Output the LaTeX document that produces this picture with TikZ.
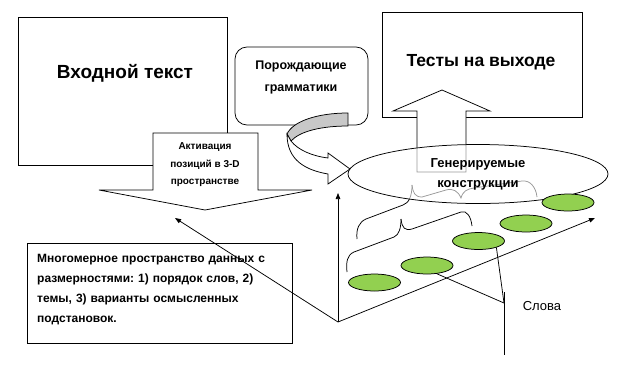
\documentclass[tikz,border=0pt]{standalone}
\usepackage{fontspec}
\setmainfont{Liberation Sans}
\usetikzlibrary{arrows.meta,positioning,shapes.geometric}
\definecolor{leafgreen}{HTML}{92D050}
\definecolor{ribbongray}{HTML}{C8C8C8}
\frenchspacing

\begin{document}
\begin{tikzpicture}[x=1pt,y=-1pt,
  box/.style={draw,line width=0.75pt,fill=white,inner sep=0pt},
  shapeline/.style={draw,line width=0.75pt,fill=white},
  braceline/.style={line width=0.75pt},
  axis/.style={line width=0.75pt,-{Triangle[length=6pt,width=4.5pt]}},
  word/.style={draw,ellipse,line width=0.75pt,fill=leafgreen,minimum width=52pt,minimum height=17pt,inner sep=0pt}]
  \useasboundingbox (0,0) rectangle (629,368);

  \node[box,minimum width=209pt,minimum height=148pt] (intext) at (122.5,91) {};
  \node[font=\bfseries\fontsize{19}{22}\selectfont] (intextlabel) at (125,73) {Входной текст};
  \draw[shapeline] (153,133) -- (258,133) -- (258,190) -- (312,190) -- (205,210) -- (99,190) -- (153,190) -- cycle;
  \node[font=\bfseries\fontsize{10}{17.5}\selectfont,align=center] (activ) at (205,165) {Активация\\позиций в 3-D\\пространстве};

  \node[box,rounded corners=12pt,minimum width=133pt,minimum height=78pt] (gram) at (301.5,86) {};
  \node[font=\bfseries\fontsize{12.5}{22}\selectfont,align=center] (gramlabel) at (301,77) {Порождающие\\грамматики};
  \filldraw[line width=0.75pt,fill=ribbongray] (348,113) .. controls (318,113) and (293,121) .. (287,134)
    -- (291,141) .. controls (300,131) and (322,126) .. (348,126) -- cycle;
  \draw[shapeline] (287,134) -- (291,141) .. controls (298,150) and (312,156) .. (328,158) -- (328,153)
    -- (350,169) -- (328,184) -- (328,174) .. controls (305,170) and (287,160) .. (287,134) -- cycle;

  \node[box,minimum width=200pt,minimum height=105pt] (outbox) at (482,64.5) {};
  \node[font=\bfseries\fontsize{17.5}{20}\selectfont] (outlabel) at (481,62) {Тесты на выходе};
  \draw[shapeline] (417,172) -- (417,111) -- (393,111) -- (442,90) -- (490,111) -- (466,111) -- (466,172) -- cycle;

  \draw[braceline] (347,272) .. controls (346,262) and (347,255) .. (354,252) -- (394,237)
    .. controls (399,235) and (401,228) .. (401,219);
  \draw[braceline] (401,219) .. controls (402,228) and (405,231) .. (412,229) -- (461,212)
    .. controls (467,210) and (471,217) .. (472,226);
  \draw[braceline] (357,239) .. controls (356,229) and (359,222) .. (366,219) -- (403,205)
    .. controls (409,203) and (412,196) .. (412,185);
  \draw[braceline] (412,185) .. controls (413,193) and (415,197) .. (422,197) -- (446,190)
    .. controls (453,188) and (458,191) .. (461,198) .. controls (463,191) and (467,189) .. (474,188)
    -- (522,181) .. controls (530,180) and (536,187) .. (537,197);

  \coordinate (orig) at (338,322);
  \coordinate (zend) at (338,193);
  \coordinate (xend) at (595,218);
  \coordinate (yend) at (175,218);
  \draw[axis] (orig) -- (zend);
  \draw[axis] (orig) -- (xend);

  \node[draw,ellipse,line width=0.75pt,fill=white,fill opacity=0.6,text opacity=1,minimum width=260pt,minimum height=59pt,inner sep=0pt,align=center,font=\bfseries\fontsize{13}{20}\selectfont] (gen) at (478,174) {Генерируемые\\конструкции};

  \node[word] (w1) at (374.5,282.5) {};
  \node[word] (w2) at (427,265.5) {};
  \node[word] (w3) at (478.5,241) {};
  \node[word] (w4) at (526,223.5) {};
  \node[word] (w5) at (568,202.5) {};

  \coordinate (wjoin) at (504,303);
  \coordinate (wtop) at (504,292);
  \coordinate (wfoot) at (504,355);
  \draw[line width=0.75pt] (w2.-40) -- (wjoin);
  \draw[line width=0.75pt] (w3.-20) -- (wjoin);
  \draw[line width=0.75pt] (wtop) -- (wfoot);
  \node[font=\fontsize{13}{15}\selectfont] (words) at (542,306) {Слова};

  \node[box,minimum width=265pt,minimum height=100pt] (space) at (159.5,293) {};
  \node[anchor=base west,text width=255pt,align=left,inner sep=0pt,font=\bfseries\fontsize{12}{20}\selectfont] (spacetext) at (37,262.5) {Многомерное пространство данных с\\размерностями: 1) порядок слов, 2)\\темы, 3) варианты осмысленных\\подстановок.};
  \draw[axis] (orig) -- (yend);
\end{tikzpicture}
\end{document}
